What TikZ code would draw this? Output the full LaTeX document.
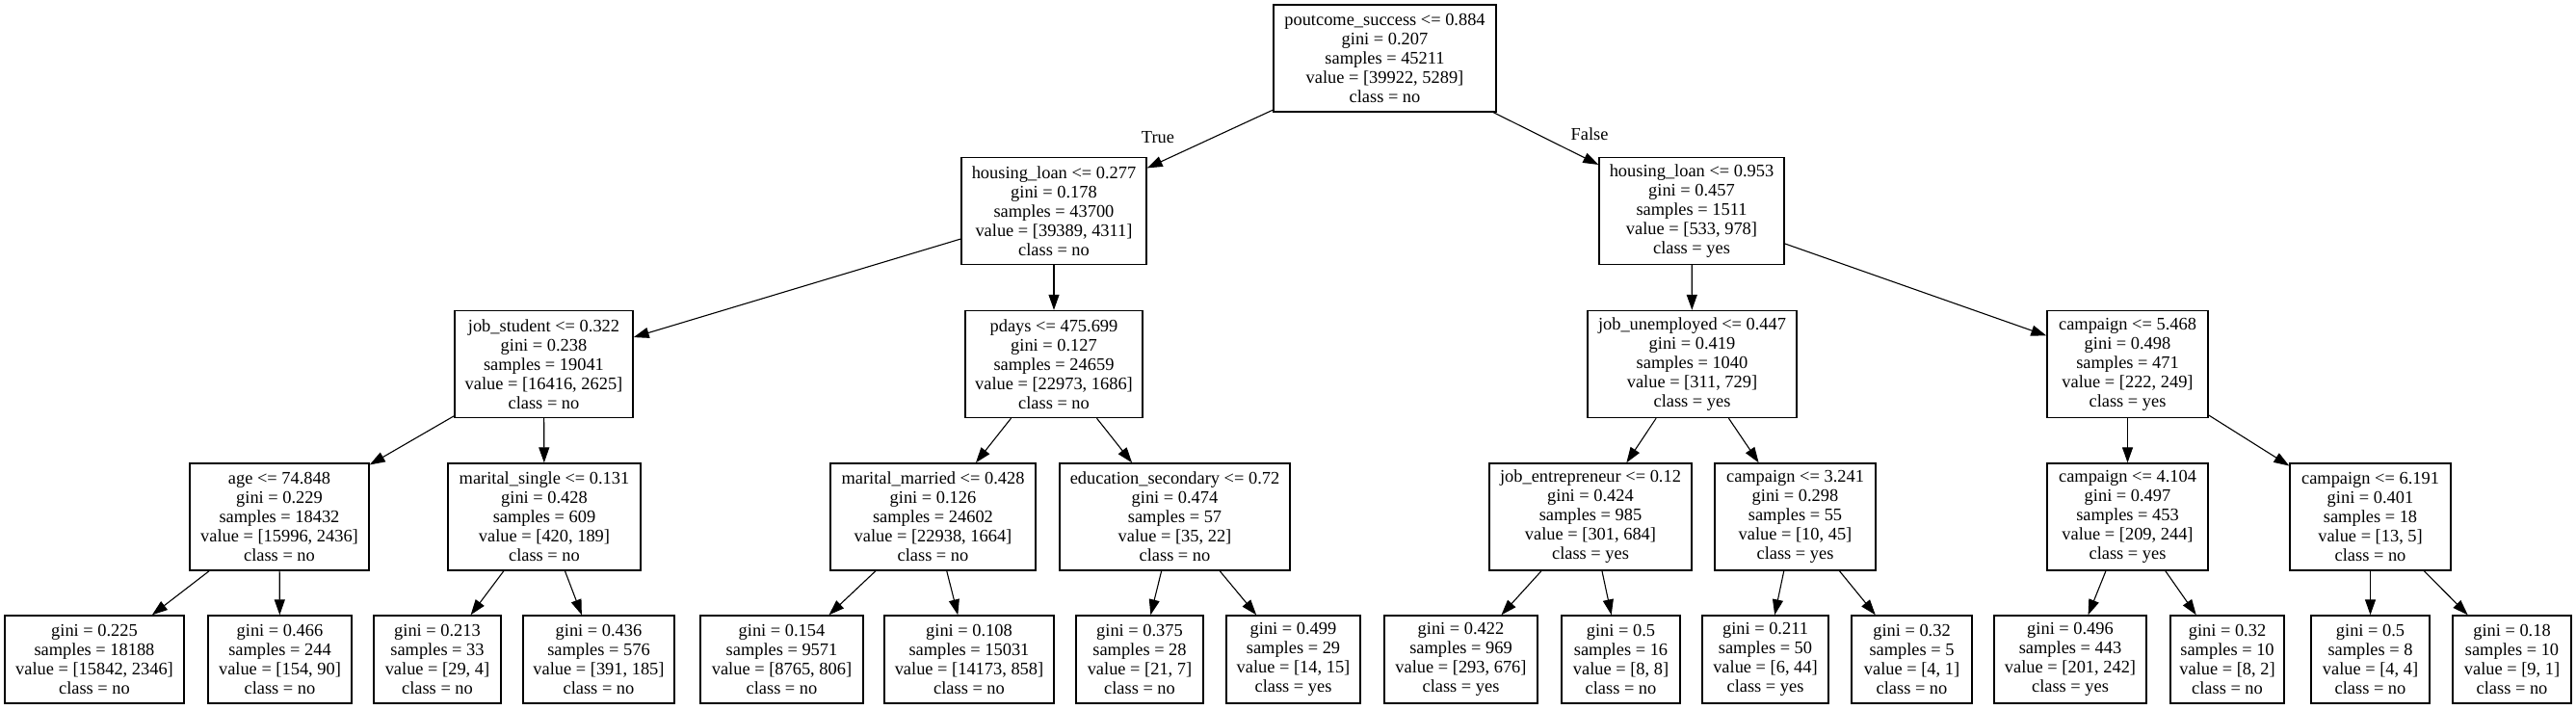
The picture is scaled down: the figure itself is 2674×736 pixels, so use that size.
\documentclass[tikz,border=0pt]{standalone}
\usepackage{fontspec}
\setmainfont{Liberation Serif}
\usetikzlibrary{arrows.meta}
\tikzset{
  nd/.style={draw=black, line width=0.7pt, rectangle, align=center,
    font=\fontsize{9.2}{10}\selectfont, inner sep=0pt,
    minimum height=55.5pt, minimum width=#1*0.5pt},
  lf/.style={nd=#1, minimum height=45.5pt},
  edge/.style={-{Triangle[length=8pt,width=5.5pt]}, line width=0.55pt},
  elabel/.style={font=\fontsize{9.2}{10}\selectfont, inner sep=0pt},
}
\begin{document}
\begin{tikzpicture}[x=0.5pt,y=-0.5pt]
\useasboundingbox[fill=white] (0,0) rectangle (2674,736);
% level 0
\node[nd=231] (root) at (1437.5,60.5) {poutcome\_success <= 0.884\\gini = 0.207\\samples = 45211\\value = [39922, 5289]\\class = no};
% level 1
\node[nd=192] (hlA) at (1094,219) {housing\_loan <= 0.277\\gini = 0.178\\samples = 43700\\value = [39389, 4311]\\class = no};
\node[nd=192] (hlB) at (1756,219) {housing\_loan <= 0.953\\gini = 0.457\\samples = 1511\\value = [533, 978]\\class = yes};
% level 2
\node[nd=185] (js) at (564.5,378) {job\_student <= 0.322\\gini = 0.238\\samples = 19041\\value = [16416, 2625]\\class = no};
\node[nd=184] (pd) at (1094,378) {pdays <= 475.699\\gini = 0.127\\samples = 24659\\value = [22973, 1686]\\class = no};
\node[nd=217] (ju) at (1756.5,378) {job\_unemployed <= 0.447\\gini = 0.419\\samples = 1040\\value = [311, 729]\\class = yes};
\node[nd=167] (cfive) at (2208.5,378) {campaign <= 5.468\\gini = 0.498\\samples = 471\\value = [222, 249]\\class = yes};
% level 3
\node[nd=186] (age) at (290,536.5) {age <= 74.848\\gini = 0.229\\samples = 18432\\value = [15996, 2436]\\class = no};
\node[nd=200] (ms) at (565,536.5) {marital\_single <= 0.131\\gini = 0.428\\samples = 609\\value = [420, 189]\\class = no};
\node[nd=213] (mm) at (968.5,536.5) {marital\_married <= 0.428\\gini = 0.126\\samples = 24602\\value = [22938, 1664]\\class = no};
\node[nd=239] (es) at (1219.5,536.5) {education\_secondary <= 0.72\\gini = 0.474\\samples = 57\\value = [35, 22]\\class = no};
\node[nd=210] (je) at (1651,536.5) {job\_entrepreneur <= 0.12\\gini = 0.424\\samples = 985\\value = [301, 684]\\class = yes};
\node[nd=167] (cthree) at (1863.5,536.5) {campaign <= 3.241\\gini = 0.298\\samples = 55\\value = [10, 45]\\class = yes};
\node[nd=167] (cfour) at (2208.5,536.5) {campaign <= 4.104\\gini = 0.497\\samples = 453\\value = [209, 244]\\class = yes};
\node[nd=167] (csix) at (2460.5,536.5) {campaign <= 6.191\\gini = 0.401\\samples = 18\\value = [13, 5]\\class = no};
% level 4 (leaves)
\node[lf=186] (la) at (98,684.5) {gini = 0.225\\samples = 18188\\value = [15842, 2346]\\class = no};
\node[lf=149] (lb) at (290.5,684.5) {gini = 0.466\\samples = 244\\value = [154, 90]\\class = no};
\node[lf=132] (lc) at (454,684.5) {gini = 0.213\\samples = 33\\value = [29, 4]\\class = no};
\node[lf=157] (ld) at (621.5,684.5) {gini = 0.436\\samples = 576\\value = [391, 185]\\class = no};
\node[lf=169] (le) at (811.5,684.5) {gini = 0.154\\samples = 9571\\value = [8765, 806]\\class = no};
\node[lf=176] (lff) at (1006,684.5) {gini = 0.108\\samples = 15031\\value = [14173, 858]\\class = no};
\node[lf=132] (lg) at (1183,684.5) {gini = 0.375\\samples = 28\\value = [21, 7]\\class = no};
\node[lf=139] (lh) at (1342.5,684.5) {gini = 0.499\\samples = 29\\value = [14, 15]\\class = yes};
\node[lf=159] (li) at (1516.5,684.5) {gini = 0.422\\samples = 969\\value = [293, 676]\\class = yes};
\node[lf=123] (lj) at (1682.5,684.5) {gini = 0.5\\samples = 16\\value = [8, 8]\\class = no};
\node[lf=131] (lk) at (1832.5,684.5) {gini = 0.211\\samples = 50\\value = [6, 44]\\class = yes};
\node[lf=125] (ll) at (1984.5,684.5) {gini = 0.32\\samples = 5\\value = [4, 1]\\class = no};
\node[lf=158] (lm) at (2149,684.5) {gini = 0.496\\samples = 443\\value = [201, 242]\\class = yes};
\node[lf=118] (ln) at (2312,684.5) {gini = 0.32\\samples = 10\\value = [8, 2]\\class = no};
\node[lf=123] (lo) at (2460.5,684.5) {gini = 0.5\\samples = 8\\value = [4, 4]\\class = no};
\node[lf=123] (lp) at (2607.5,684.5) {gini = 0.18\\samples = 10\\value = [9, 1]\\class = no};
% edge labels
\node[elabel] (tlab) at (1202,143) {True};
\node[elabel] (flab) at (1650,139) {False};
% edges
\draw[edge] (root) -- (hlA);
\draw[edge] (root) -- (hlB);
\draw[edge] (hlA) -- (js);
\draw[edge] (hlA) -- (pd);
\draw[edge] (hlB) -- (ju);
\draw[edge] (hlB) -- (cfive);
\draw[edge] (js) -- (age);
\draw[edge] (js) -- (ms);
\draw[edge] (pd) -- (mm);
\draw[edge] (pd) -- (es);
\draw[edge] (ju) -- (je);
\draw[edge] (ju) -- (cthree);
\draw[edge] (cfive) -- (cfour);
\draw[edge] (cfive) -- (csix);
\draw[edge] (age) -- (la);
\draw[edge] (age) -- (lb);
\draw[edge] (ms) -- (lc);
\draw[edge] (ms) -- (ld);
\draw[edge] (mm) -- (le);
\draw[edge] (mm) -- (lff);
\draw[edge] (es) -- (lg);
\draw[edge] (es) -- (lh);
\draw[edge] (je) -- (li);
\draw[edge] (je) -- (lj);
\draw[edge] (cthree) -- (lk);
\draw[edge] (cthree) -- (ll);
\draw[edge] (cfour) -- (lm);
\draw[edge] (cfour) -- (ln);
\draw[edge] (csix) -- (lo);
\draw[edge] (csix) -- (lp);
\end{tikzpicture}
\end{document}
